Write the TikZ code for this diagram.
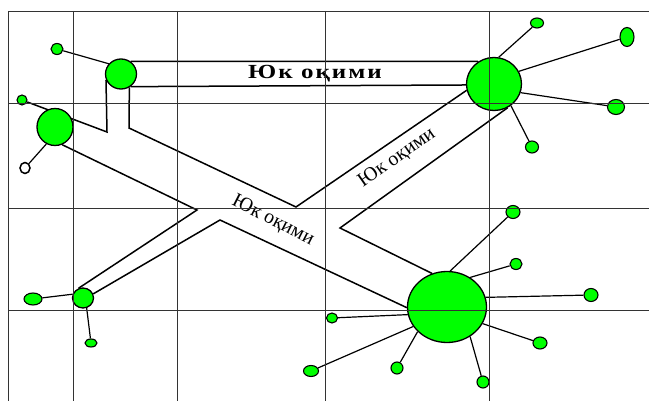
\documentclass[tikz,border=0pt]{standalone}
\usepackage{fontspec}
\setmainfont{Liberation Serif}
\usetikzlibrary{shapes.geometric,backgrounds}

\begin{document}
\begin{tikzpicture}[x=1pt,y=-1pt,
    town/.style={ellipse,draw,fill=green,line width=1.3pt,inner sep=0pt},
    village/.style={town,line width=1.1pt},
    road/.style={line width=1.5pt},
    ray/.style={line width=1.2pt},
    gridline/.style={line width=0.9pt,black!80}]

    \useasboundingbox (0,0) rectangle (649,401);

    % towns
    \node[town,minimum width=31pt,minimum height=30pt] (A) at (121,74) {};
    \node[town,minimum width=55pt,minimum height=53pt] (B) at (494,84) {};
    \node[town,minimum width=36pt,minimum height=37pt] (C) at (55,127) {};
    \node[town,minimum width=79pt,minimum height=71pt] (D) at (447,307) {};
    \node[town,minimum width=21pt,minimum height=20pt] (E) at (83,298) {};

    % villages
    \node[village,minimum width=12pt,minimum height=11pt] (a1) at (57,49) {};
    \node[village,minimum width=10pt,minimum height=10pt] (c1) at (22,100) {};
    \node[village,fill=white,line width=1.5pt,minimum width=10pt,minimum height=11pt] (c2) at (25,168) {};
    \node[village,minimum width=13pt,minimum height=10pt] (b1) at (537,23) {};
    \node[village,minimum width=14pt,minimum height=19pt] (b2) at (627,37) {};
    \node[village,minimum width=17pt,minimum height=15pt] (b3) at (616,107) {};
    \node[village,minimum width=13pt,minimum height=12pt] (b4) at (532,147) {};
    \node[village,minimum width=14pt,minimum height=13pt] (d1) at (513,212) {};
    \node[village,minimum width=12pt,minimum height=11pt] (d2) at (516,264) {};
    \node[village,minimum width=14pt,minimum height=13pt] (d3) at (591,295) {};
    \node[village,minimum width=14pt,minimum height=12pt] (d4) at (540,343) {};
    \node[village,minimum width=12pt,minimum height=12pt] (d5) at (483,382) {};
    \node[village,minimum width=12pt,minimum height=12pt] (d6) at (397,368) {};
    \node[village,minimum width=15pt,minimum height=11pt] (d7) at (311,371) {};
    \node[village,minimum width=11pt,minimum height=10pt] (d8) at (332,318) {};
    \node[village,minimum width=18pt,minimum height=12pt] (e1) at (33,299) {};
    \node[village,minimum width=12pt,minimum height=8pt] (e2) at (91,343) {};

    % road corners
    \coordinate (p1) at (107,132);
    \coordinate (p2) at (129,128);
    \coordinate (top) at (296,207);
    \coordinate (left) at (197,210);
    \coordinate (bottom) at (220,220);
    \coordinate (right) at (340,228);

    \begin{pgfonlayer}{background}
    % roads
    \draw[road] (A.53) -- (B.125);
    \draw[road] (A.-53) -- (B.182);
    \draw[road] (c1) -- (p1) -- (A.201);
    \draw[road] (A.-58) -- (p2) -- (top) -- (B.193);
    \draw[road] (C.-68) -- (left) -- (E.114);
    \draw[road] (E.22) -- (bottom) -- (D.181);
    \draw[road] (D.114) -- (right) -- (B.-60);

    \path[ray]
    (A.140) edge (a1)
    (C.243) edge (c2)
    (B.80) edge (b1)
    (B.27) edge (b2)
    (B.-18) edge (b3)
    (B.-52) edge (b4)
    (D.85) edge (d1)
    (D.52) edge (d2)
    (D.14) edge (d3)
    (D.-25) edge (d4)
    (D.-52) edge (d5)
    (D.220) edge (d6)
    (D.210) edge (d7)
    (D.191) edge (d8)
    (E.160) edge (e1)
    (E.-70) edge (e2)
    ;
    \end{pgfonlayer}

    % labels
    \node[font=\bfseries\fontsize{20}{20}\selectfont\addfontfeature{LetterSpace=8},xscale=1.25] (flow1) at (315,74) {Юк оқими};
    \node[font=\fontsize{20}{20}\selectfont,rotate=35] (flow2) at (397,158) {Юк оқими};
    \node[font=\fontsize{20}{20}\selectfont,rotate=-27] (flow3) at (273,221) {Юк оқими};

    % grid, over everything
    \foreach \gy in {11,103,208,310}
      \draw[gridline] (8,\gy) -- (649,\gy);
    \foreach \gx in {8,73,177,325,489}
      \draw[gridline] (\gx,11) -- (\gx,401);
  \end{tikzpicture}
\end{document}
